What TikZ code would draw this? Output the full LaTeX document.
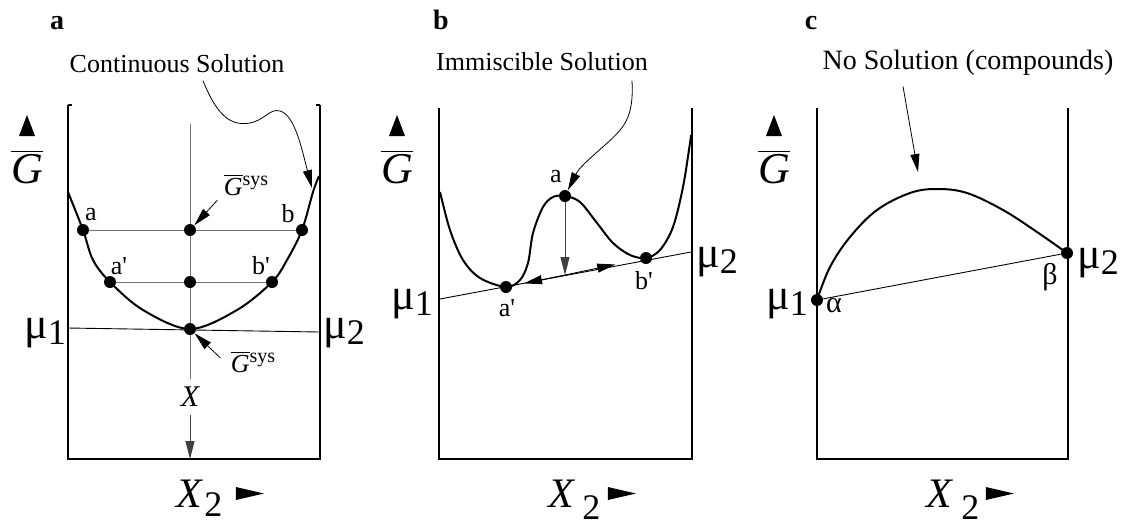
\documentclass[tikz,border=0pt]{standalone}
\usepackage{fontspec}
\setmainfont{Liberation Serif}
\usepackage{tikz}
\usetikzlibrary{arrows.meta,positioning,calc}

\newcommand{\gbar}{$\overline{\mathit{G}}$}
\newcommand{\gsys}{\gbar\raisebox{0.8ex}{\fontsize{10}{10}\selectfont sys}}
\newcommand{\chempot}[1]{μ\raisebox{-0.3ex}{\fontsize{18}{18}\selectfont #1}}

\tikzset{
  wall/.style={line width=1.3pt},
  curve/.style={line width=1pt},
  guide/.style={line width=0.5pt, black!55},
  tieline/.style={line width=0.45pt},
  dot/.style={circle, fill, inner sep=0pt, minimum size=6pt},
  tip/.style={-{Triangle[length=9pt,width=4.5pt]}},
  callout/.style={tip, line width=0.4pt},
  lbl/.style={font=\fontsize{13}{13}\selectfont, inner sep=0pt},
  sym/.style={font=\fontsize{22}{22}\selectfont, inner sep=0pt},
  greek/.style={font=\fontsize{15}{15}\selectfont, inner sep=0pt},
  panel/.style={font=\fontsize{14}{14}\selectfont\bfseries, inner sep=0pt, anchor=base},
}

\begin{document}
\begin{tikzpicture}[x=0.5pt, y=-0.5pt]
\useasboundingbox (0,0) rectangle (1126,527);
% frames, panel letters and axis labels
\foreach \p/\lx/\xl/\xr/\tp/\xc/\gx/\gap/\drop in {a/57/68/320/105/190/27/0/9, b/441/439/692/108/562/397/6/12, c/811/817/1068/108/940/774/7/12} {
  \draw[wall] (\xl,\tp) -- (\xl,459) -- (\xr,459) -- (\xr,\tp);
  \node[panel] (lbl\p) at (\lx,29) {\p};
  % G axis
  \node[sym, anchor=base] (g\p) at (\gx,183) {\gbar};
  \fill ($(g\p.base)+(-8,-47)$) -- ++(16,0) -- ++(-8,-21) -- cycle;
  % X_2 axis
  \node[sym, font=\fontsize{21}{21}\selectfont, anchor=base] (x\p) at (\xc,507) {\textit{X}};
  \node[lbl, font=\fontsize{18}{18}\selectfont, anchor=base west] (s\p) at ($(x\p.base east)+(\gap,\drop)$) {2};
  \fill ($(x\p.base east)+(32,-20)$) -- ++(0,13) -- ++(28,-6.5) -- cycle;
}
% little hooks on panel a
\draw[wall] (68,105) -- (72,105);
\draw[wall] (320,105) -- (316,105);

% ---- a: continuous solution ----
\node[lbl, anchor=base] (ta) at (177,72) {Continuous Solution};
\draw[curve] plot[smooth, tension=0.55] coordinates {(68,192) (83,230) (93,260) (110,282) (143,310) (190,329) (237,310) (272,282) (287,260) (302,230) (313,192) (319,176)};
\coordinate (acurve) at (312,188);
\draw[callout] ([xshift=13pt,yshift=-4pt]ta.south) .. controls (218,118) and (232,126) .. (250,123)
  .. controls (265,120) and (270,108) .. (280,111) .. controls (295,115) and (302,150) .. (acurve);
\node[dot] (a1) at (83,230) {};
\node[dot] (a0) at (190,230) {};
\node[dot] (b1) at (302,230) {};
\node[dot] (a2) at (110,282) {};
\node[dot] (m2) at (190,282) {};
\node[dot] (b2) at (272,282) {};
\node[dot] (amin) at (190,329) {};
\draw[guide] (a1) -- (a0) -- (b1);
\draw[guide] (a2) -- (m2) -- (b2);
\coordinate (atop) at (190,124);
\coordinate (afloor) at (190,459);
\node[inner sep=4pt, font=\fontsize{15}{15}\selectfont\itshape] (xmark) at (190,397) {X};
\draw[guide] (atop) -- (a0) (a0) -- (m2) (m2) -- (amin) (amin) -- (xmark);
\draw[guide, black!75, tip] (xmark) -- (afloor);
\coordinate (am1) at (68,328);
\coordinate (am2) at (320,332);
\draw[tieline] (am1) -- (am2);
\node[lbl] at (91,215) {a};
\node[lbl] at (288,214) {b};
\node[lbl] at (119,266) {a\textquotesingle};
\node[lbl] at (261,266) {b\textquotesingle};
\node[lbl] (gs1) at (246,185) {\gsys};
\node[lbl] (gs2) at (253,362) {\gsys};
\draw[callout] ([xshift=-3pt,yshift=-2pt]gs1.south west) -- (a0);
\draw[callout] ([xshift=-5pt,yshift=2pt]gs2.west) -- (amin);
\node[sym] (mua1) at (45,333) {\chempot{1}};
\node[sym] (mua2) at (344,333) {\chempot{2}};

% ---- b: immiscible solution ----
\node[lbl, anchor=base] (tb) at (542,70) {Immiscible Solution};
\draw[curve] plot[smooth, tension=0.55] coordinates {(440,192) (450,230) (463,260) (480,278) (506,287) (520,280) (528,263) (533,233) (543,207) (553,197) (565,196) (580,202) (597,223) (613,243) (630,255) (646,258) (660,250) (673,227) (683,187) (690,143) (691,135)};
\node[dot] (ba) at (565,196) {};
\node[dot] (ba2) at (506,287) {};
\node[dot] (bb2) at (646,258) {};
\coordinate (bm1) at (440,299);
\coordinate (bm2) at (691,252);
\coordinate (bfoot) at (565,275);
\draw[tieline] (bm1) -- (bm2);
\draw[guide, black!75, tip] (ba) -- (bfoot);
\draw[tieline, tip, shorten >=6pt] (bfoot) -- (ba2);
\draw[tieline, tip] (bfoot) -- ($(bfoot)!0.62!(bb2)$);
\draw[callout] ([xshift=45pt,yshift=-5pt]tb.south) .. controls (634,118) and (624,128) .. (605,145)
  .. controls (588,160) and (579,168) .. (ba);
\node[lbl] at (556,177) {a};
\node[lbl] at (507,308) {a\textquotesingle};
\node[lbl] at (644,281) {b\textquotesingle};
\node[sym] (mub1) at (412,304) {\chempot{1}};
\node[sym] (mub2) at (717,262) {\chempot{2}};

% ---- c: no solution ----
\node[lbl, font=\fontsize{14}{14}\selectfont, anchor=base] (tc) at (968,69) {No Solution (compounds)};
\coordinate (cpeak) at (918,172);
\draw[callout] ([xshift=-32.5pt,yshift=-5.5pt]tc.south) -- (cpeak);
\draw[curve] plot[smooth, tension=0.6] coordinates {(817,300) (830,267) (850,237) (877,210) (910,193) (937,189) (967,193) (1003,210) (1037,232) (1067,253)};
\node[dot] (calpha) at (817,300) {};
\node[dot] (cbeta) at (1067,253) {};
\draw[tieline] (calpha) -- (cbeta);
\node[greek] at (834,306) {α};
\node[greek] at (1050,277) {β};
\node[sym] (muc1) at (787,304) {\chempot{1}};
\node[sym] (muc2) at (1098,263) {\chempot{2}};
\end{tikzpicture}
\end{document}
